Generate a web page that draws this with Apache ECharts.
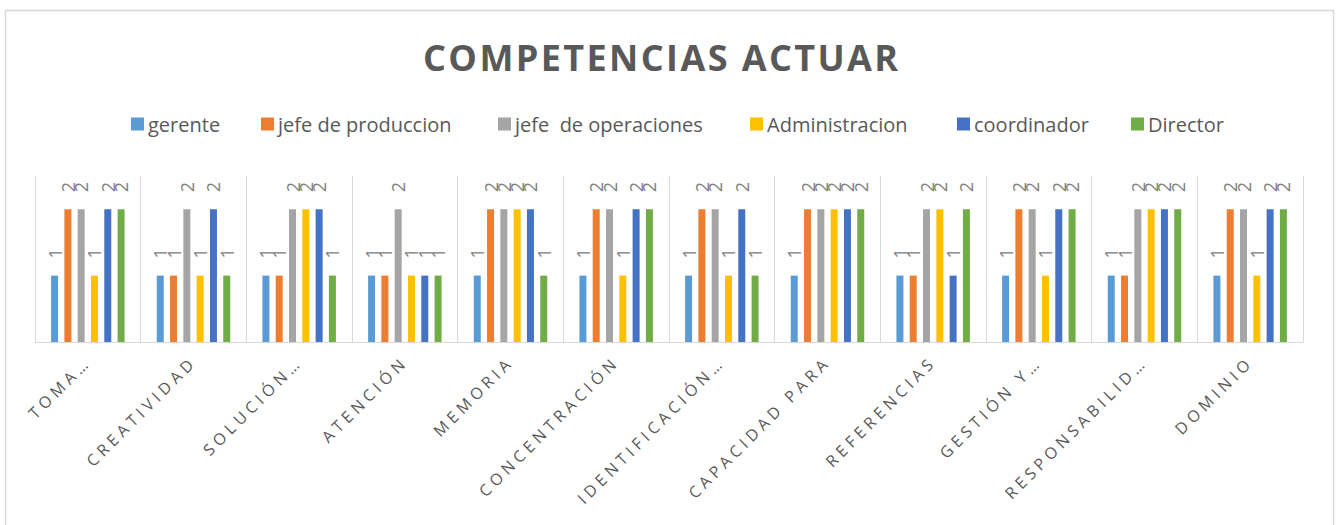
<!DOCTYPE html>
<html>
<head>
<meta charset="utf-8">
<script src="https://cdn.jsdelivr.net/npm/echarts@6/dist/echarts.min.js"></script>
<style>
  html, body { margin: 0; padding: 0; background: #fff; }
  #main { width: 1341px; height: 525px; }
</style>
</head>
<body>
<div id="main"></div>
<script>
// datos
const titleText = 'COMPETENCIAS ACTUAR';
const categories = ['TOMA…', 'CREATIVIDAD', 'SOLUCIÓN…', 'ATENCIÓN', 'MEMORIA', 'CONCENTRACIÓN',
  'IDENTIFICACIÓN…', 'CAPACIDAD PARA', 'REFERENCIAS', 'GESTIÓN Y…', 'RESPONSABILID…', 'DOMINIO'];
const seriesNames = ['gerente', 'jefe de produccion', 'jefe  de operaciones', 'Administracion', 'coordinador', 'Director'];
const gerente = [1, 1, 1, 1, 1, 1, 1, 1, 1, 1, 1, 1];
const jefeProduccion = [2, 1, 1, 1, 2, 2, 2, 2, 1, 2, 1, 2];
const jefeOperaciones = [2, 2, 2, 2, 2, 2, 2, 2, 2, 2, 2, 2];
const administracion = [1, 1, 2, 1, 2, 1, 1, 2, 2, 1, 2, 1];
const coordinador = [2, 2, 2, 1, 2, 2, 2, 2, 1, 2, 2, 2];
const director = [2, 1, 1, 1, 1, 2, 1, 2, 2, 2, 2, 2];

const seriesValues = [gerente, jefeProduccion, jefeOperaciones, administracion, coordinador, director];
const colors = ['#5B9BD5', '#ED7D31', '#A5A5A5', '#FFC000', '#4472C4', '#70AD47'];
const legendLeft = [126, 256, 493, 745, 952, 1126];
const font = '"Open Sans", "DejaVu Sans", sans-serif';

const dom = document.getElementById('main');
const chart = echarts.init(dom, null, {renderer: 'svg'});

const option = {
  animation: false,
  color: colors,
  textStyle: {fontFamily: font},
  title: {
    text: titleText,
    left: 418,
    top: 34,
    textStyle: {fontSize: 36, fontWeight: 'bold', color: '#595959', fontFamily: font}
  },
  legend: seriesNames.map((name, i) => ({
    data: [name],
    left: legendLeft[i],
    top: 109,
    itemWidth: 13,
    itemHeight: 13,
    itemGap: 0,
    textStyle: {fontSize: 20, color: '#595959', padding: [0, 0, 0, -1]},
    icon: 'rect'
  })),
  grid: {left: 35, right: 38, top: 176, bottom: 183},
  xAxis: {
    type: 'category',
    data: categories,
    axisLine: {lineStyle: {color: '#d9d9d9', width: 1}},
    axisTick: {show: false},
    splitLine: {show: true, lineStyle: {color: '#d9d9d9', width: 1}},
    axisLabel: {interval: 0, rotate: 45, margin: 17, fontSize: 16, color: '#595959'}
  },
  yAxis: {type: 'value', min: 0, max: 2.5, show: false},
  series: seriesNames.map((name, i) => ({
    name: name,
    type: 'bar',
    data: seriesValues[i],
    barWidth: 7,
    barGap: '90%',
    label: {
      show: true,
      position: 'top',
      rotate: 90,
      align: 'left',
      verticalAlign: 'middle',
      distance: 17,
      fontSize: 18,
      color: '#808080'
    }
  })),
  graphic: [{
    type: 'rect',
    silent: true,
    shape: {x: 5.5, y: 10.5, width: 1328, height: 530},
    style: {fill: 'none', stroke: '#d9d9d9', lineWidth: 1.5}
  }]
};

chart.setOption(option);

// espaciado de letras en titulo y etiquetas del eje
function spaceText() {
  dom.querySelectorAll('text').forEach((t) => {
    const s = t.textContent;
    if (s === titleText) {
      t.setAttribute('letter-spacing', '2.4');
    } else if (categories.indexOf(s) >= 0) {
      t.setAttribute('letter-spacing', '4.4');
    }
  });
}
chart.on('finished', spaceText);
spaceText();
setTimeout(spaceText, 50);
</script>
</body>
</html>
